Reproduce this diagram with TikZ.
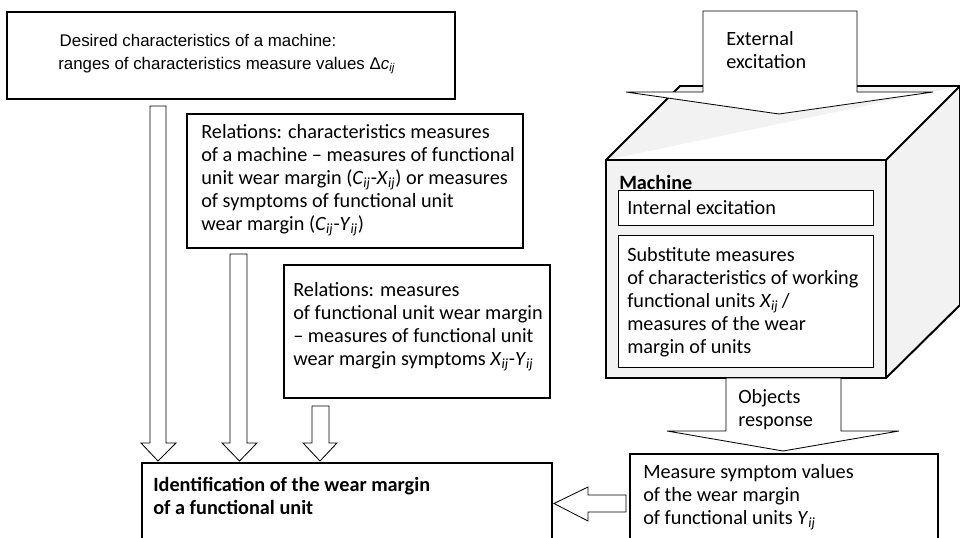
\documentclass[tikz,border=0pt]{standalone}
\usepackage{fontspec}
\usepackage{tikz}
\setmainfont{Carlito}
\newfontfamily\arialfont{Liberation Sans}
\newcommand{\ixs}[2]{\textit{#1}\textsubscript{\textit{#2}}}

\begin{document}
\begin{tikzpicture}
[
  x=0.025cm, y=-0.025cm,
  box/.style={draw, line width=1.4pt},
  thinbox/.style={draw, fill=white, line width=0.7pt},
  fat/.style={draw, fill=white, line width=0.6pt, line join=miter},
  txt/.style={anchor=west, align=left, inner sep=0pt, font=\fontsize{14.4}{16.3}\selectfont},
  arialtxt/.style={anchor=west, align=left, inner sep=0pt, font=\arialfont\fontsize{12}{16.5}\selectfont}
]
\clip (0,0) rectangle (960,538);
\fill[white] (0,0) rectangle (960,538);

% machine cube
\fill[gray!10] (606,160) rectangle (886,378);
\fill[white] (606,160) -- (886,160) -- (960,86) -- (680,86) -- cycle;
\fill[gray!10] (606,160) -- (680,86) -- (960,86) -- cycle;
\fill[gray!10] (886,160) -- (960,86) -- (960,305) -- (886,378) -- cycle;
\draw[box] (606,160) rectangle (886,378);
\draw[box] (606,160) -- (680,86) -- (960,86) -- (886,160);
\draw[box] (960,86) -- (960,305) -- (886,378);

\node[txt, font=\fontsize{14.4}{16.3}\selectfont\bfseries] (machine) at (619,182) {Machine};
\draw[thinbox] (618,190) rectangle (873,225);
\node[txt] (internal) at (627,208) {Internal excitation};
\draw[thinbox] (618,235) rectangle (873,367);
\node[txt] (substitute) at (627,302) {Substitute measures\\of characteristics of working\\functional units \ixs{X}{ij}\,/\\measures of the wear\\margin of units};

% excitation and response
\draw[fat] (703,11) -- (857,11) -- (857,92) -- (933,92) -- (779,114) -- (626,92) -- (703,92) -- cycle;
\node[txt] (external) at (726,50) {External\\excitation};
\draw[fat] (726,378) -- (841,378) -- (841,431) -- (899,431) -- (783,451) -- (667,431) -- (726,431) -- cycle;
\node[txt] (response) at (738,410) {Objects\\response};

% left column
\draw[box] (7,12) rectangle (455,99);
\node[arialtxt] (desired) at (58,54) {\hspace*{1pt}Desired characteristics of a machine:\\ranges of characteristics measure values Δ\ixs{c}{ij}};

\draw[box] (187,114) rectangle (523,248);
\node[txt] (relcx) at (201,180) {Relations: characteristics measures\\of a machine -- measures of functional\\unit wear margin (\ixs{C}{ij}-\ixs{X}{ij}) or measures\\of symptoms of functional unit\\wear margin (\ixs{C}{ij}-\ixs{Y}{ij})};

\draw[box] (284,265) rectangle (550,398);
\node[txt] (relxy) at (293,327) {Relations: measures\\of functional unit wear margin\\-- measures of functional unit\\wear margin symptoms \ixs{X}{ij}-\ixs{Y}{ij}};

\draw[box] (142,545) -- (142,463) -- (552,463) -- (552,545);
\node[txt, font=\fontsize{14.4}{16.3}\selectfont\bfseries] (ident) at (153,496) {Identification of the wear margin\\of a functional unit};

\draw[box] (630,545) -- (630,454) -- (938,454) -- (938,545);
\node[txt] (symptom) at (643,497) {Measure symptom values\\of the wear margin\\of functional units \ixs{Y}{ij}};

% fat arrows into the identification box
\draw[fat] (150,106) -- (166,106) -- (166,443) -- (176,443) -- (158,461) -- (141,443) -- (150,443) -- cycle;
\draw[fat] (230,254) -- (247,254) -- (247,443) -- (257,443) -- (239.5,461) -- (222,443) -- (230,443) -- cycle;
\draw[fat] (312,406) -- (329,406) -- (329,443) -- (337,443) -- (320,461) -- (303,443) -- (312,443) -- cycle;
\draw[fat] (626,495) -- (588,495) -- (588,487) -- (554,503.5) -- (588,521) -- (588,512) -- (626,512) -- cycle;

\end{tikzpicture}
\end{document}
